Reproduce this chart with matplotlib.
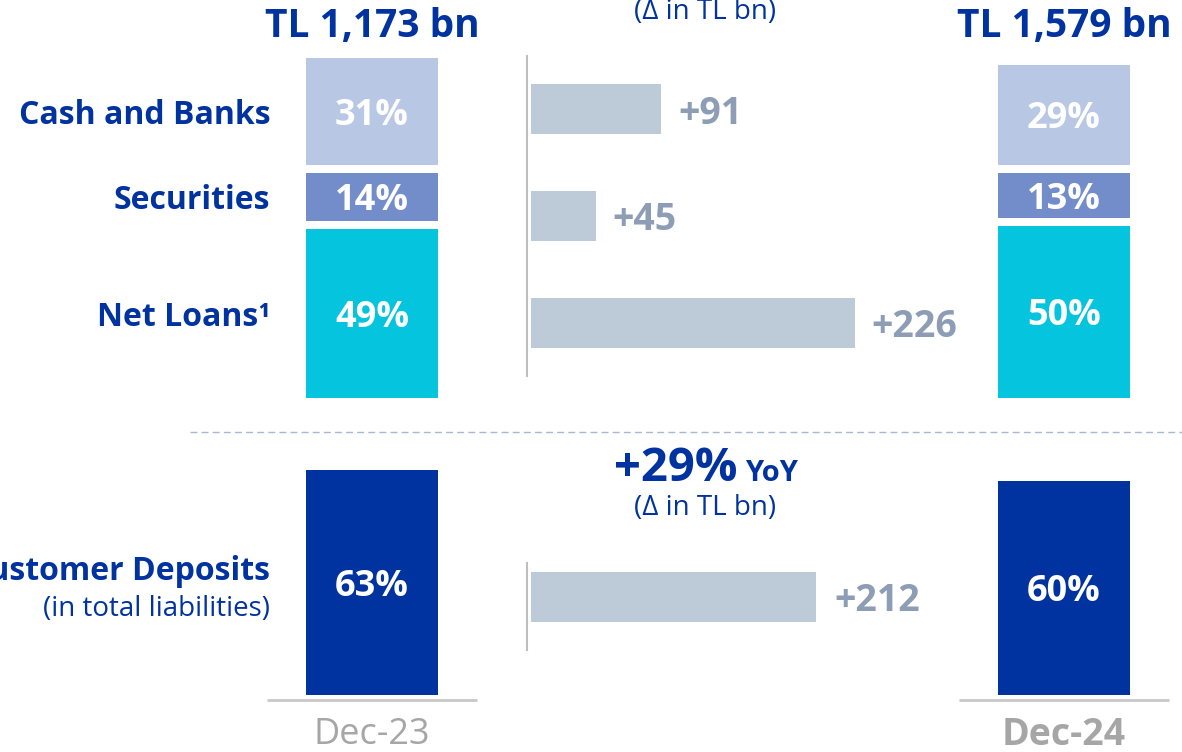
import matplotlib
matplotlib.use("Agg")
import matplotlib.pyplot as plt
from matplotlib.lines import Line2D

# dados
periods = ["Dec-23", "Dec-24"]
totals = ["TL 1,173 bn", "TL 1,579 bn"]
categories = ["Cash and Banks", "Securities", "Net Loans¹"]
shares_dec23 = [31, 14, 49]
shares_dec24 = [29, 13, 50]
delta_assets = [91, 45, 226]
deposit_share = [63, 60]
delta_deposits = [212]
deposit_growth = "+29%"

# cores
AZUL = "#0033A0"
CORES_CAT = ["#B8C7E3", "#728DC9", "#05C4DD"]
CINZA_BARRA = "#BDCBD8"
CINZA_TEXTO = "#8C9DB5"
CINZA_DATA = "#A6A6A6"

plt.rcParams['font.family'] = ['Open Sans', 'DejaVu Sans']

W, H = 1182, 752
fig = plt.figure(figsize=(W / 100, H / 100), dpi=100)
VA = 'center_baseline'


def rect(x0, y0, x1, y1):
    # caixa em pixels (origem no topo) -> fração da figura
    return [x0 / W, 1 - y1 / H, (x1 - x0) / W, (y1 - y0) / H]


def limpa(ax):
    for s in ax.spines.values():
        s.set_visible(False)
    ax.set_xticks([])
    ax.set_yticks([])
    ax.patch.set_alpha(0)


# colunas: Dec-23 em x=0, Dec-24 em x=1
XLIM = (-372 / 692, 810 / 692)
LARG = 0.192
X_ROTULO = -0.147

# --- 1. ATIVOS (barras empilhadas) ---
esc_top = 3.45  # px por %
ax_top = fig.add_axes(rect(0, 0, W, 398))
ax_top.set_xlim(*XLIM)
ax_top.set_ylim(0, 398 / esc_top)
limpa(ax_top)
gap = 8 / esc_top

for i, shares in enumerate([shares_dec23, shares_dec24]):
    base = 0
    for k in reversed(range(len(categories))):
        v = shares[k]
        ax_top.bar(i, v, bottom=base, width=LARG, color=CORES_CAT[k], linewidth=0)
        ax_top.text(i, base + v / 2, f"{v}%", ha='center', va=VA,
                    color='white', fontsize=26, fontweight='bold')
        if i == 0:
            ax_top.text(X_ROTULO, base + v / 2, categories[k], ha='right', va=VA,
                        color=AZUL, fontsize=23, fontweight='bold')
        base += v + gap
    ax_top.text(i, (398 - 27) / esc_top, totals[i], ha='center', va='center',
                color=AZUL, fontsize=28, fontweight='bold')

# variações (TL bn)
ax_dt = fig.add_axes(rect(531, 56, 931, 376))
ax_dt.set_xlim(0, 400 / 1.434)
ax_dt.set_ylim(2.5, -0.5)
limpa(ax_dt)
ax_dt.spines['left'].set_visible(True)
ax_dt.spines['left'].set_color('#BFBFBF')
ax_dt.spines['left'].set_linewidth(1.5)
ax_dt.spines['left'].set_position(('outward', 3))
ax_dt.barh(range(len(delta_assets)), delta_assets, height=0.47, color=CINZA_BARRA)
for j, v in enumerate(delta_assets):
    ax_dt.annotate(f"+{v}", (v, j), xytext=(12, 0), textcoords='offset points',
                   ha='left', va=VA, color=CINZA_TEXTO, fontsize=27, fontweight='bold')

fig.text(705 / W, 1 - 12 / H, "(Δ in TL bn)", ha='center', va='center',
         color=AZUL, fontsize=20)

# linha tracejada
fig.add_artist(Line2D([190 / W, 1], [1 - 432 / H] * 2, transform=fig.transFigure,
                      color='#A7B8D6', lw=1, ls=(0, (5, 3))))

# --- 2. DEPÓSITOS ---
esc_bot = 3.57
ax_bot = fig.add_axes(rect(0, 432, W, 752))
ax_bot.set_xlim(*XLIM)
ax_bot.set_ylim(-57 / esc_bot, 263 / esc_bot)
limpa(ax_bot)
for i, v in enumerate(deposit_share):
    ax_bot.bar(i, v, width=LARG, color=AZUL, linewidth=0)
    ax_bot.text(i, v / 2, f"{v}%", ha='center', va=VA,
                color='white', fontsize=26, fontweight='bold')
    y_base = -5 / esc_bot
    ax_bot.plot([i - 0.152, i + 0.152], [y_base, y_base], color='#C8C8C8', lw=2,
                solid_capstyle='butt')
    ax_bot.text(i, -40 / esc_bot, periods[i], ha='center', va='center', color=CINZA_DATA,
                fontsize=27 if i == 1 else 26, fontweight='bold' if i == 1 else 'normal',
                clip_on=False)

ax_bot.text(X_ROTULO, (695 - 567) / esc_bot, "Customer Deposits", ha='right', va=VA,
            color=AZUL, fontsize=23, fontweight='bold')
ax_bot.text(X_ROTULO, (695 - 605) / esc_bot, "(in total liabilities)", ha='right', va=VA,
            color=AZUL, fontsize=20)

ax_db = fig.add_axes(rect(531, 563, 931, 650))
ax_db.set_xlim(0, 400 / 1.344)
ax_db.set_ylim(-0.61, 0.39)
limpa(ax_db)
ax_db.spines['left'].set_visible(True)
ax_db.spines['left'].set_color('#BFBFBF')
ax_db.spines['left'].set_linewidth(1.5)
ax_db.spines['left'].set_position(('outward', 3))
ax_db.barh([0], delta_deposits, height=0.575, color=CINZA_BARRA)
for v in delta_deposits:
    ax_db.annotate(f"+{v}", (v, 0), xytext=(13, 0), textcoords='offset points',
                   ha='left', va=VA, color=CINZA_TEXTO, fontsize=27, fontweight='bold')

fig.text(737 / W, 1 - 481 / H, deposit_growth, ha='right', va='baseline',
         color=AZUL, fontsize=34, fontweight='bold')
fig.text(745 / W, 1 - 481 / H, "YoY", ha='left', va='baseline',
         color=AZUL, fontsize=21, fontweight='bold')
fig.text(705 / W, 1 - 508 / H, "(Δ in TL bn)", ha='center', va='center',
         color=AZUL, fontsize=20)

fig.savefig("out.png", dpi=100)
